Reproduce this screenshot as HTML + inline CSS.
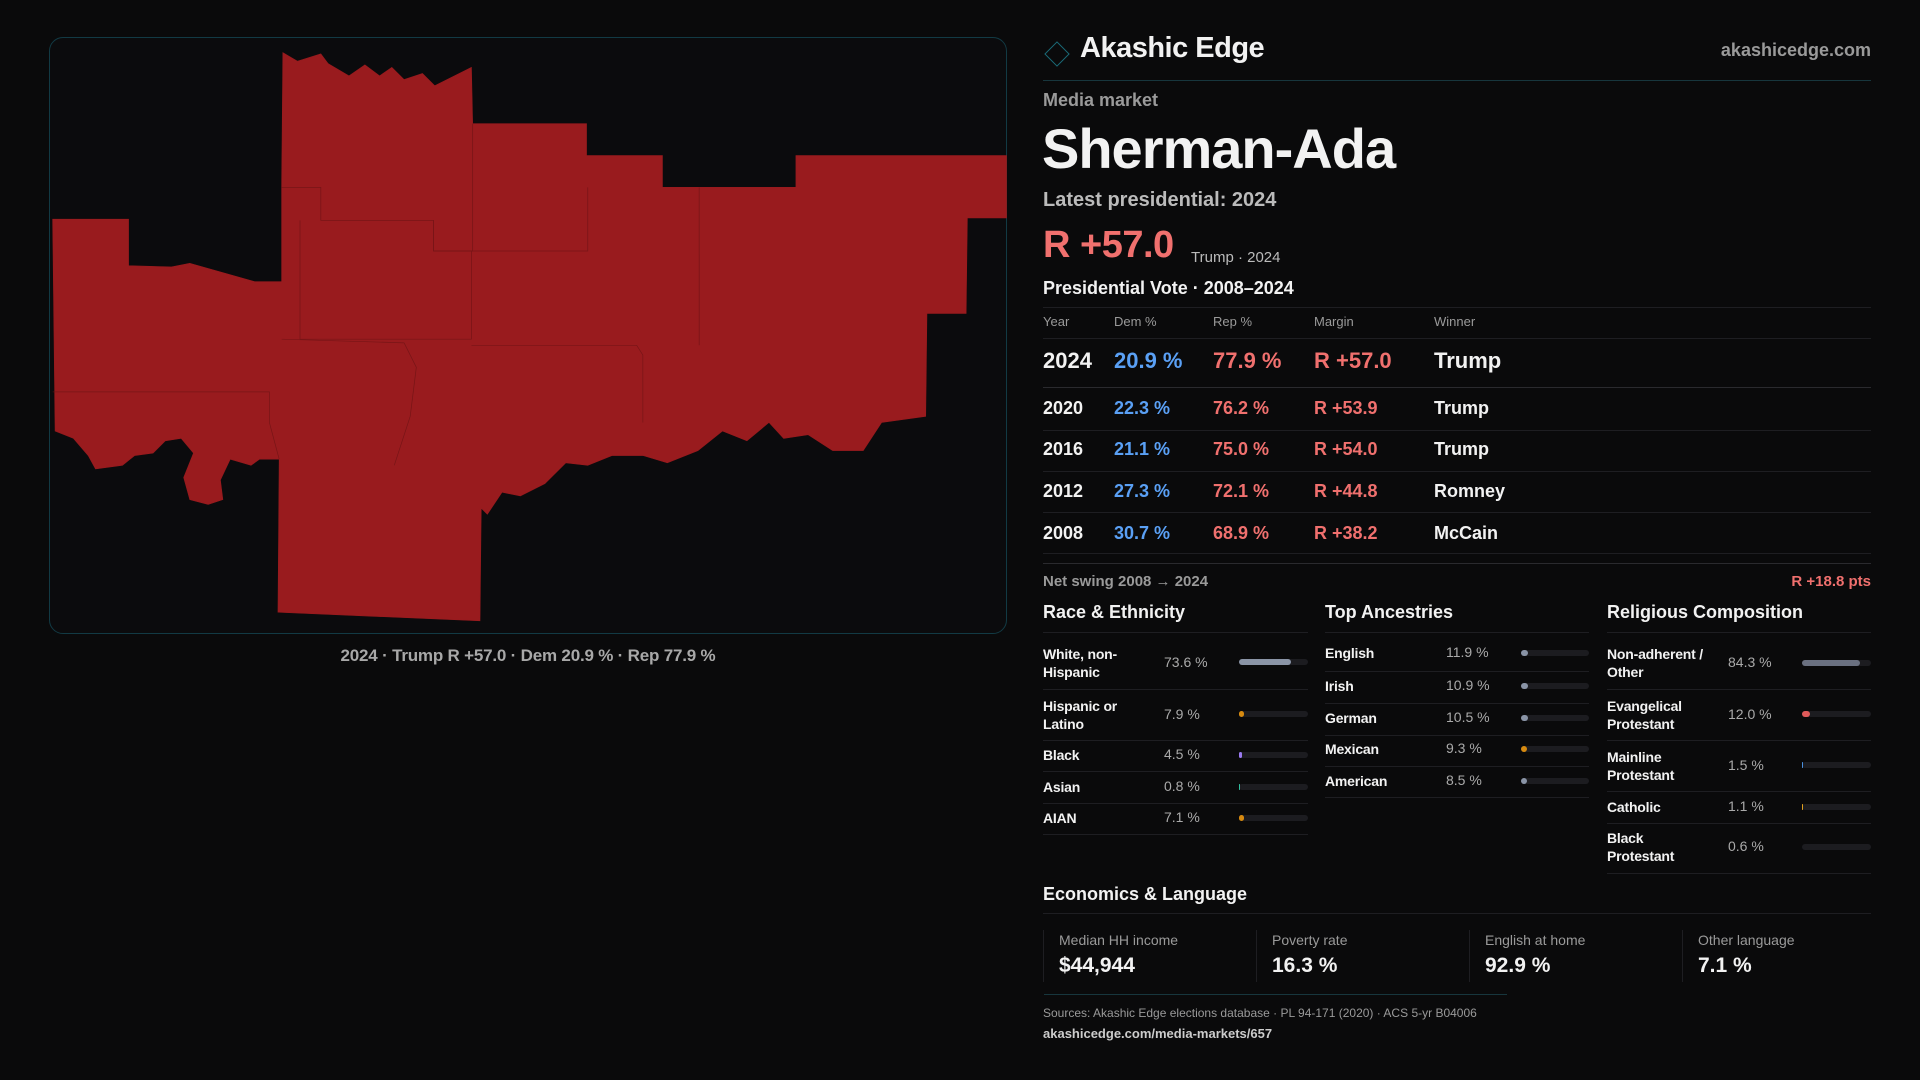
<!DOCTYPE html>
<html><head><meta charset="utf-8"><style>
*{margin:0;padding:0;box-sizing:border-box}
body{width:1920px;height:1080px;background:#0a0a0b;font-family:"Liberation Sans",sans-serif;color:#f2f2f2;position:relative;overflow:hidden}
.a{position:absolute;white-space:nowrap}
.g{color:#9a9a9a}
.r{color:#f0706e}
.b{color:#5aa0f5}
.hl{position:absolute;height:1px;background:#1e1e22}
.bar{position:absolute;height:6px;border-radius:3px;background:#1c1c20}
.bar i{position:absolute;left:0;top:0;height:6px;border-radius:3px;display:block}
.lbl{font-size:14px;font-weight:bold;line-height:18px;letter-spacing:-0.2px}
.val{font-size:14px;color:#aaa}
</style></head><body>
<div class="a" style="left:49px;top:37px;width:958px;height:597px;border:1px solid #123a44;border-radius:14px;background:#0b0b0d"></div>
<svg class="a" style="left:0;top:0" width="1920" height="1080" viewBox="0 0 1568 882">
<polygon fill="#991b1e" stroke="#991b1e" stroke-width="0.5" points="231,43 243,50 262,44 268,52 285,62 298,53 310,62 320,55 330,65 345,60 355,70 385,55 386,101 479,101 479,127 541,127 541,153 650,153 650,127 822,127 822,178 790,178 789,256 757,256 756,340 720,345 705,368 680,368 660,355 640,358 628,345 610,360 590,352 570,368 545,378 525,372 500,372 480,380 462,378 445,395 425,405 410,402 398,420 393,415 392,507 227,500 228,375 212,375 205,380 188,375 180,392 182,408 170,412 155,408 150,390 158,370 148,358 135,360 125,370 110,372 100,380 78,383 72,372 60,358 45,352 43,179 105,179 105,217 140,218 155,215 208,230 230,230 230,153 231,43"/>
<g fill="none" stroke="#6a1214" stroke-width="0.6" opacity="0.7">
<path d="M230,153 H262 V180 H354 V205 H386 V101"/>
<path d="M245,180 V277 H385 V205"/>
<path d="M354,180 V205 H480 V153"/>
<path d="M571,153 V282"/>
<path d="M230,277 L330,280 L340,300 L335,340 L322,380"/>
<path d="M385,282 H520 L525,290 V345"/>
<path d="M43,320 H220 V345 L228,375"/>
</g>
</svg>
<div class="a" style="left:0;width:1056px;top:646px;text-align:center;font-size:17px;color:#a8a8a8;font-weight:bold;letter-spacing:-0.2px">2024 · Trump R +57.0 · Dem 20.9 % · Rep 77.9 %</div>

<div class="a" style="left:1048px;top:45px;width:18px;height:18px;border:1.5px solid #1a6a78;transform:rotate(45deg)"></div>
<div class="a" style="left:1080px;top:32px;font-size:29px;font-weight:bold;letter-spacing:-0.5px">Akashic Edge</div>
<div class="a g" style="right:49px;top:40px;font-size:18px;font-weight:bold">akashicedge.com</div>
<div class="hl" style="left:1043px;width:828px;top:80px;background:#17363d"></div>
<div class="a g" style="left:1043px;top:90px;font-size:18px;font-weight:bold">Media market</div>
<div class="a" style="left:1042px;top:116px;font-size:56px;font-weight:bold;letter-spacing:-1px">Sherman-Ada</div>
<div class="a" style="left:1043px;top:189px;font-size:20px;font-weight:bold;color:#bbb">Latest presidential: 2024</div>
<div class="a r" style="left:1043px;top:224px;font-size:38px;font-weight:bold;letter-spacing:-0.5px">R +57.0</div>
<div class="a" style="left:1191px;top:249px;font-size:15px;color:#bbb">Trump · 2024</div>
<div class="a" style="left:1043px;top:278px;font-size:18px;font-weight:bold">Presidential Vote · 2008–2024</div>
<div class="hl" style="left:1043px;width:828px;top:307px"></div>
<div class="a g" style="left:1043px;top:314px;font-size:13px">Year</div>
<div class="a g" style="left:1114px;top:314px;font-size:13px">Dem %</div>
<div class="a g" style="left:1213px;top:314px;font-size:13px">Rep %</div>
<div class="a g" style="left:1314px;top:314px;font-size:13px">Margin</div>
<div class="a g" style="left:1434px;top:314px;font-size:13px">Winner</div>
<div class="hl" style="left:1043px;width:828px;top:338px"></div>
<div class="a" style="left:1043px;top:348px;font-size:22px;font-weight:bold">2024</div>
<div class="a b" style="left:1114px;top:348px;font-size:22px;font-weight:bold">20.9 %</div>
<div class="a r" style="left:1213px;top:348px;font-size:22px;font-weight:bold">77.9 %</div>
<div class="a r" style="left:1314px;top:348px;font-size:22px;font-weight:bold">R +57.0</div>
<div class="a" style="left:1434px;top:348px;font-size:22px;font-weight:bold">Trump</div>
<div class="hl" style="left:1043px;width:828px;top:387px;background:#2a2a2e"></div>
<div class="a" style="left:1043px;top:398px;font-size:18px;font-weight:bold">2020</div>
<div class="a" style="left:1043px;top:439px;font-size:18px;font-weight:bold">2016</div>
<div class="a" style="left:1043px;top:481px;font-size:18px;font-weight:bold">2012</div>
<div class="a" style="left:1043px;top:523px;font-size:18px;font-weight:bold">2008</div>
<div class="a b" style="left:1114px;top:398px;font-size:18px;font-weight:bold">22.3 %</div>
<div class="a b" style="left:1114px;top:439px;font-size:18px;font-weight:bold">21.1 %</div>
<div class="a b" style="left:1114px;top:481px;font-size:18px;font-weight:bold">27.3 %</div>
<div class="a b" style="left:1114px;top:523px;font-size:18px;font-weight:bold">30.7 %</div>
<div class="a r" style="left:1213px;top:398px;font-size:18px;font-weight:bold">76.2 %</div>
<div class="a r" style="left:1213px;top:439px;font-size:18px;font-weight:bold">75.0 %</div>
<div class="a r" style="left:1213px;top:481px;font-size:18px;font-weight:bold">72.1 %</div>
<div class="a r" style="left:1213px;top:523px;font-size:18px;font-weight:bold">68.9 %</div>
<div class="a r" style="left:1314px;top:398px;font-size:18px;font-weight:bold">R +53.9</div>
<div class="a r" style="left:1314px;top:439px;font-size:18px;font-weight:bold">R +54.0</div>
<div class="a r" style="left:1314px;top:481px;font-size:18px;font-weight:bold">R +44.8</div>
<div class="a r" style="left:1314px;top:523px;font-size:18px;font-weight:bold">R +38.2</div>
<div class="a" style="left:1434px;top:398px;font-size:18px;font-weight:bold">Trump</div>
<div class="a" style="left:1434px;top:439px;font-size:18px;font-weight:bold">Trump</div>
<div class="a" style="left:1434px;top:481px;font-size:18px;font-weight:bold">Romney</div>
<div class="a" style="left:1434px;top:523px;font-size:18px;font-weight:bold">McCain</div>
<div class="hl" style="left:1043px;width:828px;top:430px"></div>
<div class="hl" style="left:1043px;width:828px;top:471px"></div>
<div class="hl" style="left:1043px;width:828px;top:512px"></div>
<div class="hl" style="left:1043px;width:828px;top:553px"></div>
<div class="hl" style="left:1043px;width:828px;top:563px;background:#2a2a2e"></div>
<div class="a g" style="left:1043px;top:573px;font-size:15px;font-weight:bold">Net swing 2008 → 2024</div>
<div class="a r" style="right:49px;top:573px;font-size:15px;font-weight:bold">R +18.8 pts</div>

<div class="a" style="left:1043px;top:602px;font-size:18px;font-weight:bold">Race &amp; Ethnicity</div>
<div class="a" style="left:1325px;top:602px;font-size:18px;font-weight:bold">Top Ancestries</div>
<div class="a" style="left:1607px;top:602px;font-size:18px;font-weight:bold">Religious Composition</div>
<div class="hl" style="left:1043px;width:265px;top:632px"></div>
<div class="hl" style="left:1325px;width:264px;top:632px"></div>
<div class="hl" style="left:1607px;width:264px;top:632px"></div>

<div class="a lbl" style="left:1043px;top:645px">White, non-<br>Hispanic</div><div class="a val" style="left:1164px;top:654px">73.6 %</div>
<div class="bar" style="left:1239px;width:69px;top:659px"><i style="width:52px;background:#8a94a6"></i></div>
<div class="hl" style="left:1043px;width:265px;top:689px"></div>
<div class="a lbl" style="left:1043px;top:697px">Hispanic or<br>Latino</div><div class="a val" style="left:1164px;top:706px">7.9 %</div>
<div class="bar" style="left:1239px;width:69px;top:711px"><i style="width:5px;background:#d68a10"></i></div>
<div class="hl" style="left:1043px;width:265px;top:740px"></div>
<div class="a lbl" style="left:1043px;top:746px">Black</div><div class="a val" style="left:1164px;top:746px">4.5 %</div>
<div class="bar" style="left:1239px;width:69px;top:752px"><i style="width:3px;background:#9a7af0"></i></div>
<div class="hl" style="left:1043px;width:265px;top:771px"></div>
<div class="a lbl" style="left:1043px;top:778px">Asian</div><div class="a val" style="left:1164px;top:778px">0.8 %</div>
<div class="bar" style="left:1239px;width:69px;top:784px"><i style="width:1px;background:#30c0a0"></i></div>
<div class="hl" style="left:1043px;width:265px;top:803px"></div>
<div class="a lbl" style="left:1043px;top:809px">AIAN</div><div class="a val" style="left:1164px;top:809px">7.1 %</div>
<div class="bar" style="left:1239px;width:69px;top:815px"><i style="width:5px;background:#d68a10"></i></div>
<div class="hl" style="left:1043px;width:265px;top:834px"></div>

<div class="a lbl" style="left:1325px;top:644px">English</div><div class="a val" style="left:1446px;top:644px">11.9 %</div>
<div class="bar" style="left:1521px;width:68px;top:650px"><i style="width:7px;background:#8a94a6"></i></div>
<div class="hl" style="left:1325px;width:264px;top:671px"></div>
<div class="a lbl" style="left:1325px;top:677px">Irish</div><div class="a val" style="left:1446px;top:677px">10.9 %</div>
<div class="bar" style="left:1521px;width:68px;top:683px"><i style="width:7px;background:#8a94a6"></i></div>
<div class="hl" style="left:1325px;width:264px;top:703px"></div>
<div class="a lbl" style="left:1325px;top:709px">German</div><div class="a val" style="left:1446px;top:709px">10.5 %</div>
<div class="bar" style="left:1521px;width:68px;top:715px"><i style="width:7px;background:#8a94a6"></i></div>
<div class="hl" style="left:1325px;width:264px;top:735px"></div>
<div class="a lbl" style="left:1325px;top:740px">Mexican</div><div class="a val" style="left:1446px;top:740px">9.3 %</div>
<div class="bar" style="left:1521px;width:68px;top:746px"><i style="width:6px;background:#d68a10"></i></div>
<div class="hl" style="left:1325px;width:264px;top:766px"></div>
<div class="a lbl" style="left:1325px;top:772px">American</div><div class="a val" style="left:1446px;top:772px">8.5 %</div>
<div class="bar" style="left:1521px;width:68px;top:778px"><i style="width:6px;background:#8a94a6"></i></div>
<div class="hl" style="left:1325px;width:264px;top:797px"></div>

<div class="a lbl" style="left:1607px;top:645px">Non-adherent /<br>Other</div><div class="a val" style="left:1728px;top:654px">84.3 %</div>
<div class="bar" style="left:1802px;width:69px;top:660px"><i style="width:58px;background:#6a7080"></i></div>
<div class="hl" style="left:1607px;width:264px;top:689px"></div>
<div class="a lbl" style="left:1607px;top:697px">Evangelical<br>Protestant</div><div class="a val" style="left:1728px;top:706px">12.0 %</div>
<div class="bar" style="left:1802px;width:69px;top:711px"><i style="width:8px;background:#e05a5a"></i></div>
<div class="hl" style="left:1607px;width:264px;top:740px"></div>
<div class="a lbl" style="left:1607px;top:748px">Mainline<br>Protestant</div><div class="a val" style="left:1728px;top:757px">1.5 %</div>
<div class="bar" style="left:1802px;width:69px;top:762px"><i style="width:1px;background:#4a90e0"></i></div>
<div class="hl" style="left:1607px;width:264px;top:791px"></div>
<div class="a lbl" style="left:1607px;top:798px">Catholic</div><div class="a val" style="left:1728px;top:798px">1.1 %</div>
<div class="bar" style="left:1802px;width:69px;top:804px"><i style="width:1px;background:#e0a020"></i></div>
<div class="hl" style="left:1607px;width:264px;top:823px"></div>
<div class="a lbl" style="left:1607px;top:829px">Black<br>Protestant</div><div class="a val" style="left:1728px;top:838px">0.6 %</div>
<div class="bar" style="left:1802px;width:69px;top:844px"></div>
<div class="hl" style="left:1607px;width:264px;top:873px"></div>

<div class="a" style="left:1043px;top:884px;font-size:18px;font-weight:bold">Economics &amp; Language</div>
<div class="hl" style="left:1043px;width:828px;top:913px"></div>
<div class="a" style="left:1043px;top:930px;width:1px;height:52px;background:#1e1e22"></div>
<div class="a" style="left:1256px;top:930px;width:1px;height:52px;background:#1e1e22"></div>
<div class="a" style="left:1469px;top:930px;width:1px;height:52px;background:#1e1e22"></div>
<div class="a" style="left:1682px;top:930px;width:1px;height:52px;background:#1e1e22"></div>
<div class="a g" style="left:1059px;top:932px;font-size:14px">Median HH income</div>
<div class="a" style="left:1059px;top:954px;font-size:21px;font-weight:bold">$44,944</div>
<div class="a g" style="left:1272px;top:932px;font-size:14px">Poverty rate</div>
<div class="a" style="left:1272px;top:954px;font-size:21px;font-weight:bold">16.3 %</div>
<div class="a g" style="left:1485px;top:932px;font-size:14px">English at home</div>
<div class="a" style="left:1485px;top:954px;font-size:21px;font-weight:bold">92.9 %</div>
<div class="a g" style="left:1698px;top:932px;font-size:14px">Other language</div>
<div class="a" style="left:1698px;top:954px;font-size:21px;font-weight:bold">7.1 %</div>
<div class="hl" style="left:1044px;width:463px;top:994px;background:#17363d"></div>
<div class="a g" style="left:1043px;top:1006px;font-size:12px">Sources: Akashic Edge elections database · PL 94-171 (2020) · ACS 5-yr B04006</div>
<div class="a" style="left:1043px;top:1026px;font-size:13px;color:#ccc;font-weight:bold">akashicedge.com/media-markets/657</div>
</body></html>
